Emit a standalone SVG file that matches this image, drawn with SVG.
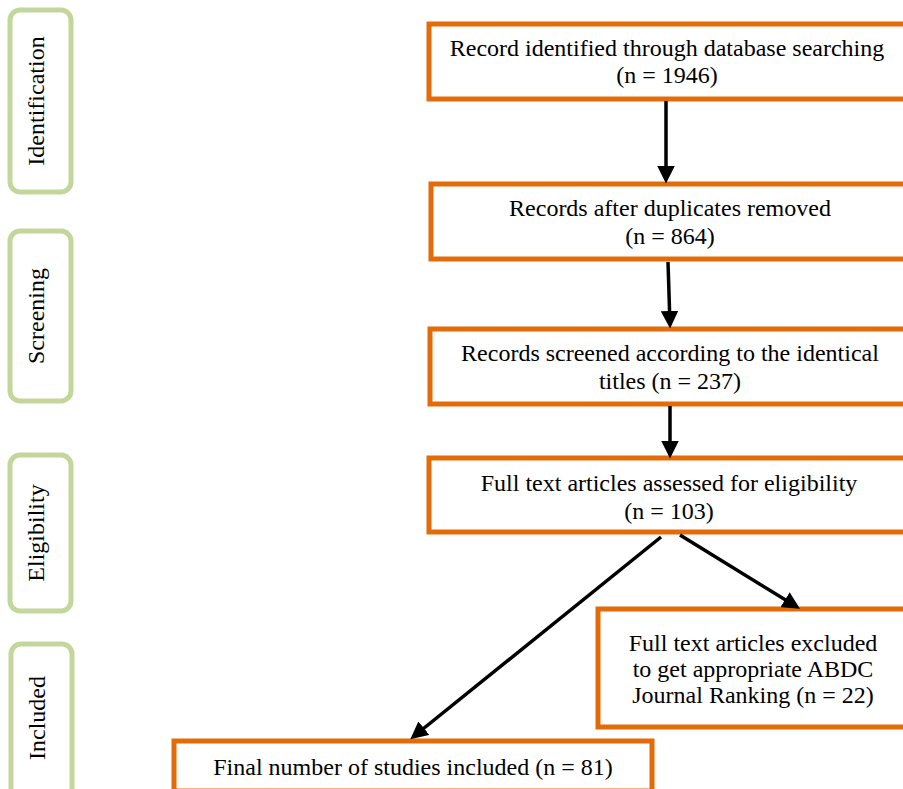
<svg xmlns="http://www.w3.org/2000/svg" width="903" height="789" viewBox="0 0 903 789">
<style>
.phase{fill:#fff;stroke:#c3d69b;stroke-width:5}
.box{fill:#fff;stroke:#e36c09;stroke-width:5}
text{font-family:"Liberation Serif","Times New Roman",serif;font-size:24px;fill:#000;text-anchor:middle}
.conn line{stroke:#000;stroke-width:3.5}
</style>
<defs>
<marker id="ah" markerWidth="5" markerHeight="5" refX="4" refY="2.5" orient="auto" markerUnits="strokeWidth">
<path d="M0,0 L5,2.5 L0,5 Z" fill="#000"/>
</marker>
</defs>
<g id="phase-identification"><rect class="phase" x="10" y="10" width="61" height="182" rx="10"/><text transform="translate(44,101) rotate(-90)">Identification</text></g>
<g id="phase-screening"><rect class="phase" x="10" y="231" width="61" height="170" rx="10"/><text transform="translate(44,316) rotate(-90)">Screening</text></g>
<g id="phase-eligibility"><rect class="phase" x="10" y="455" width="61" height="156" rx="10"/><text transform="translate(44,533) rotate(-90)">Eligibility</text></g>
<g id="phase-included"><rect class="phase" x="11" y="644" width="61" height="160" rx="10"/><text transform="translate(45,718) rotate(-90)">Included</text></g>
<g id="n1"><rect class="box" x="429" y="24" width="480" height="75"/><text x="667" y="56">Record identified through database searching</text><text x="667" y="83">(n = 1946)</text></g>
<g id="n2"><rect class="box" x="431" y="184" width="480" height="75"/><text x="670" y="216">Records after duplicates removed</text><text x="670" y="244">(n = 864)</text></g>
<g id="n3"><rect class="box" x="430" y="329" width="480" height="75"/><text x="670" y="361">Records screened according to the identical</text><text x="670" y="389">titles (n = 237)</text></g>
<g id="n4"><rect class="box" x="429" y="458" width="480" height="74"/><text x="669" y="491">Full text articles assessed for eligibility</text><text x="669" y="519">(n = 103)</text></g>
<g id="n5"><rect class="box" x="598" y="609" width="320" height="118"/><text x="753" y="651">Full text articles excluded</text><text x="753" y="677">to get appropriate ABDC</text><text x="753" y="703">Journal Ranking (n = 22)</text></g>
<g id="n6"><rect class="box" x="174" y="741" width="478" height="50"/><text x="413" y="775">Final number of studies included (n = 81)</text></g>
<g class="conn" id="connectors">
<line x1="666" y1="101" x2="666" y2="180" marker-end="url(#ah)"/>
<line x1="668" y1="262" x2="670" y2="325" marker-end="url(#ah)"/>
<line x1="670" y1="406" x2="670" y2="455" marker-end="url(#ah)"/>
<line x1="661" y1="537" x2="413" y2="737" marker-end="url(#ah)"/>
<line x1="680" y1="535" x2="797" y2="607" marker-end="url(#ah)"/>
</g>
</svg>
